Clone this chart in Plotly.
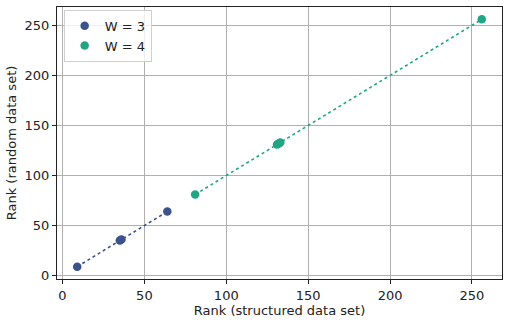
import plotly.graph_objects as go

w3_x = [9, 35, 36, 64]
w3_y = [9, 35, 36, 64]
w4_x = [81, 131, 132, 133, 256]
w4_y = [81, 131, 132, 133, 256]
series = [("W = 3", w3_x, w3_y, "#3b528b"), ("W = 4", w4_x, w4_y, "#21a585")]
x_ticks = [0, 50, 100, 150, 200, 250]
y_ticks = [0, 50, 100, 150, 200, 250]

fig = go.Figure()
for name, xs, ys, col in series:
    fig.add_trace(go.Scatter(x=xs, y=ys, mode="lines", line=dict(color=col, width=1.6, dash="dot"),
                             showlegend=False, hoverinfo="skip"))
    fig.add_trace(go.Scatter(x=xs, y=ys, mode="markers", name=name,
                             marker=dict(color=col, size=8.5, line=dict(width=0))))

axis_common = dict(showgrid=True, gridcolor="#b0b0b0", gridwidth=1, zeroline=False,
                   showline=True, linecolor="#222", linewidth=1.2, mirror=True,
                   ticks="outside", ticklen=4, tickcolor="#222", automargin=False,
                   tickfont=dict(family="DejaVu Sans", size=13, color="#222"))
fig.update_xaxes(range=[-3.35, 268.35], tickvals=x_ticks,
                 title=dict(text="Rank (structured data set)", font=dict(family="DejaVu Sans", size=13, color="#222"), standoff=0),
                 **axis_common)
fig.update_yaxes(range=[-3.35, 268.35], tickvals=y_ticks,
                 title=dict(text="Rank (random data set)", font=dict(family="DejaVu Sans", size=13, color="#222"), standoff=4),
                 **axis_common)
fig.update_layout(width=509, height=323, margin=dict(l=57, r=7, t=7, b=44),
                  plot_bgcolor="white", paper_bgcolor="white",
                  legend=dict(x=0.015, y=0.99, xanchor="left", yanchor="top",
                              bgcolor="rgba(255,255,255,0.8)", bordercolor="#d0d0d0", borderwidth=1,
                              font=dict(family="DejaVu Sans", size=13, color="#222"),
                              itemwidth=30, tracegroupgap=0),
                  font=dict(family="DejaVu Sans"))
fig.write_html("out.html", config={"displayModeBar": False},
               post_script="document.body.style.margin='0';document.body.style.overflow='hidden';")
